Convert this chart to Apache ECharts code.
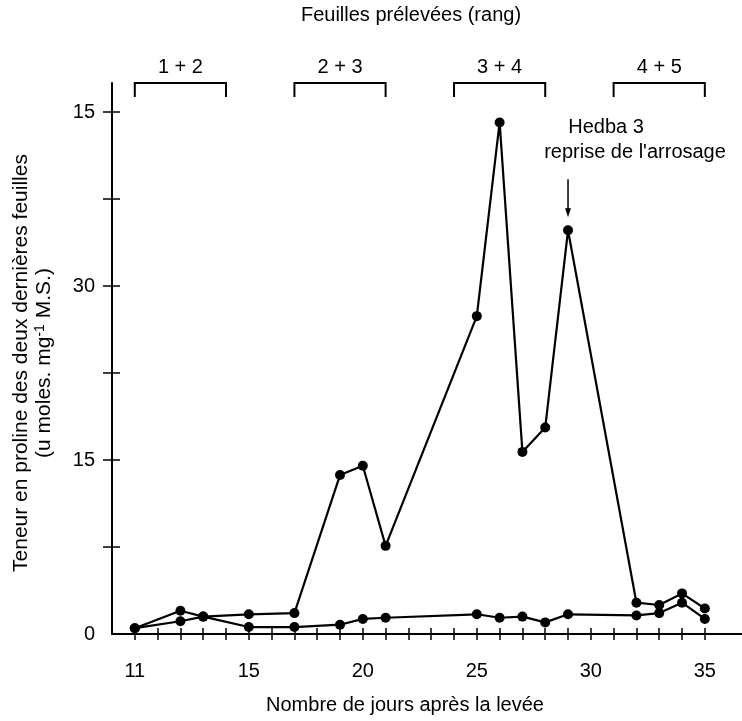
<!DOCTYPE html>
<html><head><meta charset="utf-8">
<script src="https://cdn.jsdelivr.net/npm/echarts@6/dist/echarts.min.js"></script>
<style>html,body{margin:0;padding:0;background:#fff}#c{width:742px;height:721px}</style>
</head><body><div id="c"></div>
<script>
// ---- data ----
const upperDays = [10,12,13,15,17,19,20,21,25,26,27,28,29,32,33,34,35];
const upperValues = [0.5,2.0,1.5,1.7,1.8,13.7,14.5,7.6,27.4,44.1,15.7,17.8,34.8,2.7,2.5,3.5,2.2];
const lowerDays = [10,12,13,15,17,19,20,21,25,26,27,28,29,32,33,34,35];
const lowerValues = [0.5,1.1,1.5,0.6,0.6,0.8,1.3,1.4,1.7,1.4,1.5,1.0,1.7,1.6,1.8,2.7,1.3];
const xTickDays = [10,11,12,13,14,15,16,17,18,19,20,21,22,23,24,25,26,27,28,29,30,31,32,33,34,35];
const xLabelValues = [10,15,20,25,30,35];
const xLabelTexts = ['11','15','20','25','30','35'];
const yTickValues = [7.5,15,22.5,30,37.5,45];
const yLabelValues = [0,15,30,45];
const yLabelTexts = ['0','15','30','15'];
const bracketLabels = ['1 + 2','2 + 3','3 + 4','4 + 5'];
const bracketStart = [10,17,24,31];
const bracketEnd = [14,21,28,35];
const annotationDay = 29;
const annotationLines = ['Hedba 3', "reprise de l'arrosage"];
const titleTop = 'Feuilles prélevées (rang)';
const titleX = 'Nombre de jours après la levée';
const titleY1 = 'Teneur en proline des deux dernières feuilles';
const titleY2a = '(u moles. mg';
const titleY2sup = '-1';
const titleY2b = ' M.S.)';

const FONT = '"Liberation Sans", Arial, Helvetica, sans-serif';
const FS = 20;
const chart = echarts.init(document.getElementById('c'));
const zip = (a, b) => a.map((v, i) => [v, b[i]]);
const annotationValue = upperValues[upperDays.indexOf(annotationDay)];
const YMAX = 47.5;

const baseX = {type:'value', min:9, max:36.63, splitLine:{show:false}, gridIndex:0};
const baseY = {type:'value', min:0, max:YMAX, splitLine:{show:false}, gridIndex:0};

chart.setOption({
  animation:false,
  backgroundColor:'#fff',
  grid:{left:112, right:0, top:83, bottom:87, containLabel:false},
  xAxis:[
    Object.assign({}, baseX, {
      position:'bottom',
      axisLine:{show:true, onZero:false, lineStyle:{color:'#000', width:2}},
      axisTick:{show:true, customValues:xTickDays, length:6, inside:false, lineStyle:{color:'#000', width:1.5}},
      axisLabel:{show:true, customValues:xLabelValues, margin:27, color:'#000', fontSize:FS, fontFamily:FONT,
        formatter:v => xLabelTexts[xLabelValues.indexOf(v)]}
    }),
    Object.assign({}, baseX, {
      position:'bottom',
      axisLine:{show:false},
      axisTick:{show:true, customValues:xTickDays, length:6, inside:true, lineStyle:{color:'#000', width:1.5}},
      axisLabel:{show:false}
    })
  ],
  yAxis:[
    Object.assign({}, baseY, {
      position:'left',
      axisLine:{show:true, onZero:false, lineStyle:{color:'#000', width:2}},
      axisTick:{show:true, customValues:yTickValues, length:9, inside:false, lineStyle:{color:'#000', width:1.5}},
      axisLabel:{show:true, customValues:yLabelValues, margin:17, color:'#000', fontSize:FS, fontFamily:FONT,
        formatter:v => yLabelTexts[yLabelValues.indexOf(v)]}
    }),
    Object.assign({}, baseY, {
      position:'left',
      axisLine:{show:false},
      axisTick:{show:true, customValues:yTickValues, length:8, inside:true, lineStyle:{color:'#000', width:1.5}},
      axisLabel:{show:false}
    })
  ],
  series:[
    {type:'line', data:zip(upperDays, upperValues), xAxisIndex:0, yAxisIndex:0,
      symbol:'circle', symbolSize:10, itemStyle:{color:'#000'}, lineStyle:{color:'#000', width:2.2}, z:3},
    {type:'line', data:zip(lowerDays, lowerValues), xAxisIndex:0, yAxisIndex:0,
      symbol:'circle', symbolSize:10, itemStyle:{color:'#000'}, lineStyle:{color:'#000', width:2.2}, z:3},
    {type:'custom', xAxisIndex:0, yAxisIndex:0, clip:false, silent:true,
      data:bracketLabels.map((t, i) => [bracketStart[i], bracketEnd[i], t]),
      renderItem:(params, api) => {
        const a = api.coord([api.value(0), YMAX]);
        const b = api.coord([api.value(1), YMAX]);
        const lbl = bracketLabels[params.dataIndex];
        return {type:'group', children:[
          {type:'polyline', shape:{points:[[a[0], a[1]+14],[a[0], a[1]],[b[0], b[1]],[b[0], b[1]+14]]},
            style:{stroke:'#000', lineWidth:2, fill:null}},
          {type:'text', style:{x:(a[0]+b[0])/2, y:a[1]-16, text:lbl, align:'center', verticalAlign:'middle',
            fill:'#000', font:FS + 'px ' + FONT}}
        ]};
      }
    },
    {type:'custom', xAxisIndex:0, yAxisIndex:0, clip:false, silent:true,
      data:[[annotationDay, annotationValue]],
      renderItem:(params, api) => {
        const p = api.coord([api.value(0), api.value(1)]);
        const tipY = p[1]-13, tailY = p[1]-51;
        return {type:'group', children:[
          {type:'line', shape:{x1:p[0], y1:tailY, x2:p[0], y2:tipY-6}, style:{stroke:'#000', lineWidth:1.5}},
          {type:'polygon', shape:{points:[[p[0]-3, tipY-9],[p[0]+3, tipY-9],[p[0], tipY]]}, style:{fill:'#000'}},
          {type:'text', style:{x:p[0]+38, y:p[1]-103, text:annotationLines[0], align:'center', verticalAlign:'middle', fill:'#000', font:FS + 'px ' + FONT}},
          {type:'text', style:{x:p[0]+67, y:p[1]-78, text:annotationLines[1], align:'center', verticalAlign:'middle', fill:'#000', font:FS + 'px ' + FONT}}
        ]};
      }
    }
  ],
  graphic:[
    {type:'text', x:411, y:15, style:{text:titleTop, align:'center', verticalAlign:'middle', fill:'#000', font:FS + 'px ' + FONT}},
    {type:'text', x:405, y:705, style:{text:titleX, align:'center', verticalAlign:'middle', fill:'#000', font:FS + 'px ' + FONT}},
    {type:'text', x:33, y:363, rotation:Math.PI/2,
      style:{
        text:'{a|' + titleY1 + '}\n{a|' + titleY2a + '}{s|' + titleY2sup + '}{a|' + titleY2b + '}',
        align:'center', verticalAlign:'middle', fill:'#000',
        rich:{
          a:{fontSize:21, fontFamily:FONT, lineHeight:23, fill:'#000'},
          s:{fontSize:14, fontFamily:FONT, lineHeight:23, verticalAlign:'top', padding:[0,0,8,0], fill:'#000'}
        }
      }}
  ]
});
</script></body></html>
